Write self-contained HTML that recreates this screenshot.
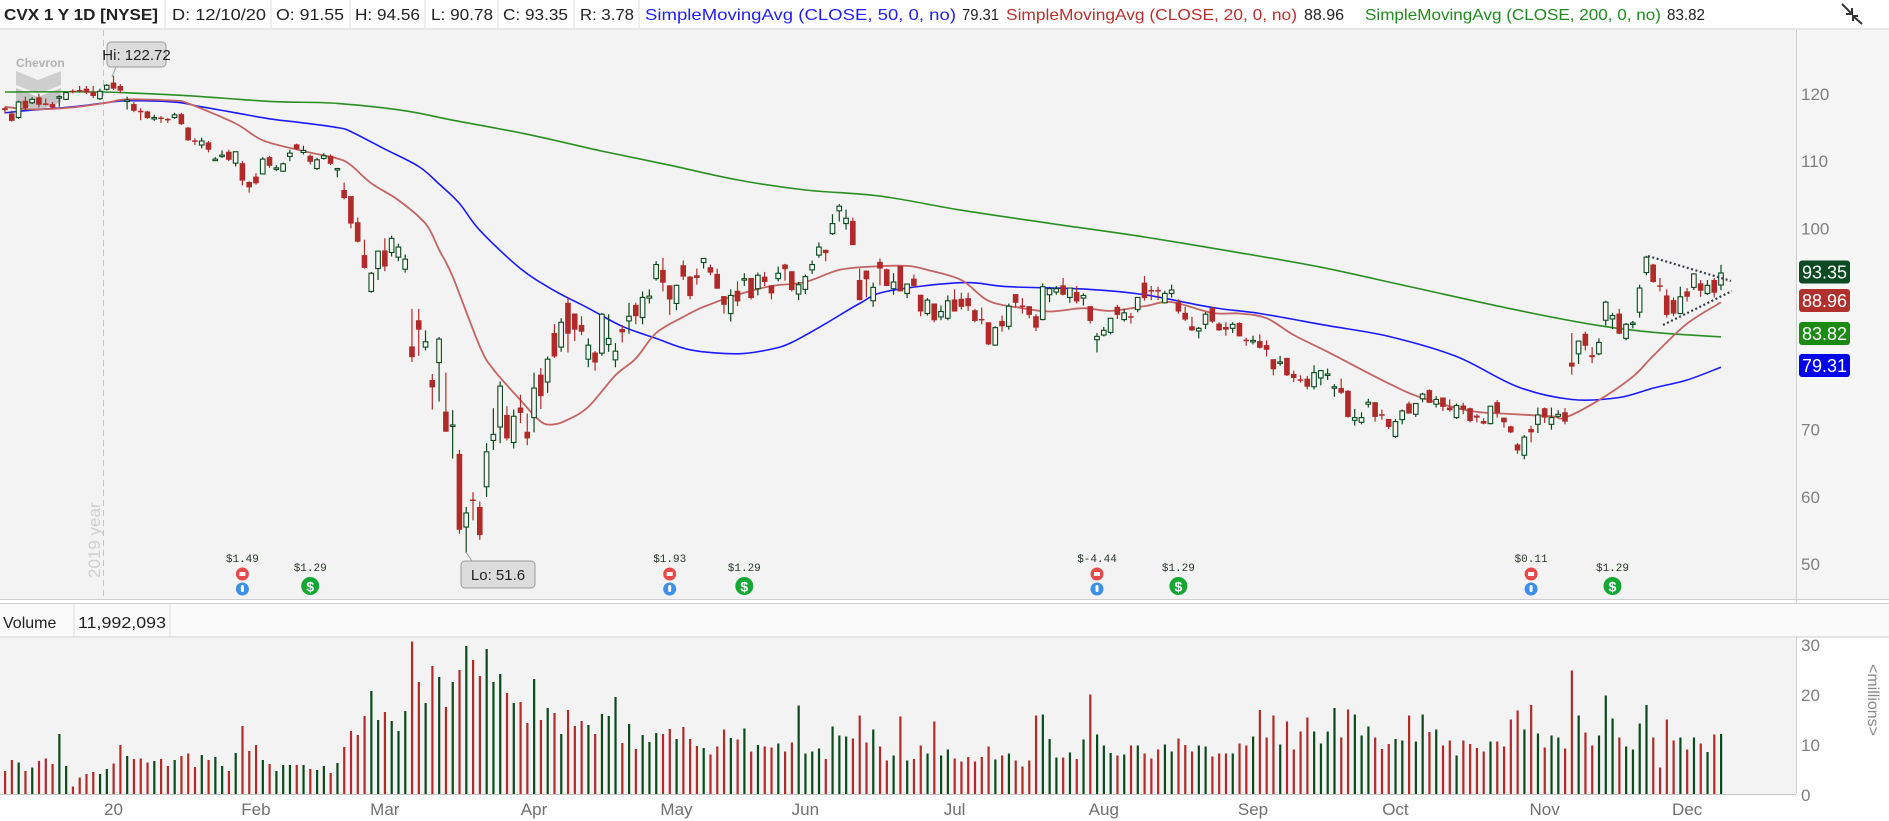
<!DOCTYPE html>
<html><head><meta charset="utf-8">
<style>
html,body{margin:0;padding:0;background:#fff;}
svg{display:block;font-family:"Liberation Sans",sans-serif;}
</style></head>
<body>
<svg id="chart" width="1889" height="821" viewBox="0 0 1889 821" xmlns="http://www.w3.org/2000/svg">
  <rect x="0" y="0" width="1889" height="821" fill="#ffffff"/>
  <g font-size="16" fill="#222">
    <text x="4" y="20" font-weight="bold" textLength="154" lengthAdjust="spacingAndGlyphs">CVX 1 Y 1D [NYSE]</text>
    <line x1="165" y1="0" x2="165" y2="28" stroke="#ddd"/>
    <text x="172" y="20" textLength="94" lengthAdjust="spacingAndGlyphs">D: 12/10/20</text>
    <line x1="271" y1="0" x2="271" y2="28" stroke="#ddd"/>
    <text x="276" y="20" textLength="68" lengthAdjust="spacingAndGlyphs">O: 91.55</text>
    <line x1="350" y1="0" x2="350" y2="28" stroke="#ddd"/>
    <text x="355" y="20" textLength="65" lengthAdjust="spacingAndGlyphs">H: 94.56</text>
    <line x1="425" y1="0" x2="425" y2="28" stroke="#ddd"/>
    <text x="431" y="20" textLength="62" lengthAdjust="spacingAndGlyphs">L: 90.78</text>
    <line x1="498" y1="0" x2="498" y2="28" stroke="#ddd"/>
    <text x="503" y="20" textLength="65" lengthAdjust="spacingAndGlyphs">C: 93.35</text>
    <line x1="574" y1="0" x2="574" y2="28" stroke="#ddd"/>
    <text x="580" y="20" textLength="54" lengthAdjust="spacingAndGlyphs">R: 3.78</text>
    <line x1="639" y1="0" x2="639" y2="28" stroke="#ddd"/>
    <text x="645" y="20" fill="#1f1fff" textLength="311" lengthAdjust="spacingAndGlyphs">SimpleMovingAvg (CLOSE, 50, 0, no)</text>
    <text x="962" y="20" textLength="37" lengthAdjust="spacingAndGlyphs">79.31</text>
    <text x="1006" y="20" fill="#b8302e" textLength="291" lengthAdjust="spacingAndGlyphs">SimpleMovingAvg (CLOSE, 20, 0, no)</text>
    <text x="1304" y="20" textLength="40" lengthAdjust="spacingAndGlyphs">88.96</text>
    <text x="1365" y="20" fill="#1f8a1f" textLength="296" lengthAdjust="spacingAndGlyphs">SimpleMovingAvg (CLOSE, 200, 0, no)</text>
    <text x="1667" y="20" textLength="38" lengthAdjust="spacingAndGlyphs">83.82</text>
    <g stroke="#333" stroke-width="2" fill="none">
      <path d="M1842 4 L1852 14 M1852 8 L1852 14 L1846 14"/>
      <path d="M1862 24 L1853 16 M1853 21 L1853 16 L1858 16"/>
    </g>
  </g>
  <line x1="0" y1="29" x2="1889" y2="29" stroke="#cfcfcf"/>
  <rect x="0" y="30" width="1796" height="569" fill="#f3f3f3"/>
  <rect x="1797" y="30" width="92" height="569" fill="#f6f6f6"/>
  <line x1="1796.5" y1="30" x2="1796.5" y2="794" stroke="#cfcfcf"/>
  <line x1="103.5" y1="30" x2="103.5" y2="599" stroke="#c4c4c4" stroke-dasharray="6,4"/>
  <text x="0" y="0" transform="translate(100,578) rotate(-90)" font-size="17" fill="#cfcfcf">2019 year</text>
  <g opacity="0.85">
    <text x="16" y="67" font-size="12" font-weight="bold" fill="#a8a8a8">Chevron</text>
    <path d="M16 71 L38 80 L61 71 L61 85 L38 94 L16 85 Z" fill="#c9c9c9"/>
    <path d="M16 88 L38 97 L61 88 L61 102 L38 111 L16 102 Z" fill="#bdbdbd"/>
  </g>
  <g id="priceAxis"></g>
  <g id="smaLines"></g>
  <g id="candles"></g>
  <g stroke="#3a3f4a" stroke-width="2.2" stroke-dasharray="2,2.5">
    <line x1="1648" y1="256" x2="1731" y2="281"/>
    <line x1="1663" y1="325" x2="1732" y2="291"/>
  </g>
  <g id="events"></g>
  <g>
    <path d="M112 77 L116 67" stroke="#999" fill="none"/>
    <rect x="107" y="42" width="59" height="25" rx="4" fill="#dcdcdc" stroke="#9a9a9a"/>
    <text x="136.5" y="60" font-size="15" text-anchor="middle" fill="#222">Hi: 122.72</text>
  </g>
  <g>
    <path d="M466 552 L472 561" stroke="#999" fill="none"/>
    <rect x="461" y="561" width="74" height="27" rx="4" fill="#dcdcdc" stroke="#9a9a9a"/>
    <text x="498" y="580" font-size="15" text-anchor="middle" fill="#222">Lo: 51.6</text>
  </g>
  <g id="lastLabels"></g>
  <line x1="0" y1="599.5" x2="1889" y2="599.5" stroke="#cfcfcf"/>
  <line x1="0" y1="603.5" x2="1889" y2="603.5" stroke="#cfcfcf"/>
  <rect x="0" y="604" width="1889" height="33" fill="#fafafa"/>
  <text x="3" y="628" font-size="16" fill="#222">Volume</text>
  <line x1="74" y1="604" x2="74" y2="637" stroke="#ddd"/>
  <text x="78" y="628" font-size="16" fill="#222" textLength="88" lengthAdjust="spacingAndGlyphs">11,992,093</text>
  <line x1="170" y1="604" x2="170" y2="637" stroke="#ddd"/>
  <line x1="0" y1="637" x2="1889" y2="637" stroke="#cfcfcf"/>
  <rect x="0" y="638" width="1796" height="156" fill="#f3f3f3"/>
  <g id="volAxis"></g>
  <g id="volBars"></g>
  <line x1="0" y1="794.5" x2="1796" y2="794.5" stroke="#c8c8c8"/>
  <text x="0" y="0" transform="translate(1868,700) rotate(90)" font-size="16" fill="#888" text-anchor="middle">&lt;millions&gt;</text>
  <g id="xAxis"></g>
</svg>
<script>
const opens=[117.9,117.1,116.5,119.0,118.7,119.5,118.6,118.5,119.4,119.2,120.5,120.6,120.8,120.3,119.3,120.7,121.7,121.2,119.0,118.5,117.5,117.4,116.4,116.5,116.3,116.5,117.0,115.0,113.1,112.4,112.8,110.2,110.9,111.4,109.7,109.7,106.9,107.7,108.1,110.6,109.0,108.5,110.7,112.5,111.3,110.8,108.9,110.4,110.8,108.9,105.7,104.8,100.9,96.0,90.6,94.0,96.7,96.4,95.7,93.9,82.4,86.3,82.3,77.4,80.0,72.7,70.7,66.4,55.5,59.6,58.5,61.5,68.4,70.4,72.2,68.1,73.3,69.7,71.8,78.2,77.1,84.4,82.3,88.9,87.3,85.6,80.5,81.5,81.4,82.7,80.4,85.0,86.2,88.6,86.7,89.6,92.5,93.8,91.5,88.8,94.5,92.8,93.0,94.9,94.2,93.2,89.9,87.3,90.7,92.4,92.6,91.0,92.8,91.5,92.5,94.6,93.6,90.2,90.9,93.8,96.0,96.8,99.2,102.6,100.7,101.1,92.3,93.7,89.2,95.0,93.9,91.0,94.4,90.3,92.5,90.1,87.3,88.8,86.8,86.6,89.4,89.5,89.6,87.8,86.5,86.0,82.6,86.2,85.4,90.2,88.5,88.4,86.9,86.4,90.1,90.5,91.5,89.7,90.5,89.6,88.4,83.4,84.1,84.5,88.3,86.4,86.9,87.9,91.9,90.8,90.8,88.9,90.3,89.0,87.4,85.4,84.7,85.7,88.1,85.8,85.3,85.1,85.9,83.4,83.2,83.2,82.6,80.5,80.0,80.7,78.3,77.5,77.6,76.4,77.7,78.1,76.3,76.2,75.8,71.4,71.1,73.8,74.1,72.3,71.6,69.0,71.5,73.9,72.3,74.6,75.9,73.8,74.8,73.3,71.8,73.6,73.2,72.1,71.3,70.9,74.1,71.8,70.5,67.8,66.2,70.1,70.8,73.2,70.8,72.0,72.6,80.0,81.3,84.3,81.1,81.3,86.3,86.5,87.3,83.6,85.8,87.5,93.4,94.6,91.5,90.0,89.3,87.3,90.6,91.2,91.8,90.3,92.3,91.55];
const highs=[118.1,117.5,119.0,119.6,119.5,120.0,119.3,118.8,119.8,120.3,120.7,121.2,121.2,121.2,120.8,121.5,122.72,121.5,119.6,118.8,117.9,117.5,116.9,116.7,116.4,117.2,117.2,115.1,113.4,113.5,113.0,110.6,111.6,111.7,111.4,110.0,107.0,108.2,110.6,110.8,109.4,109.8,111.7,112.6,112.3,111.0,110.5,111.2,111.0,109.0,106.8,104.8,101.6,98.3,93.5,96.6,98.5,98.9,97.7,96.1,88.0,88.0,84.8,78.3,83.8,78.5,72.9,67.0,58.5,60.7,59.3,68.0,73.2,77.2,73.5,73.0,75.2,72.4,78.5,79.2,80.9,85.7,86.6,89.6,87.3,86.9,83.6,81.7,87.4,87.2,82.9,85.6,88.9,88.9,90.6,90.9,95.1,95.6,91.5,91.6,95.2,92.9,94.0,95.5,94.6,94.0,89.9,90.9,92.1,93.3,92.6,93.4,93.5,91.5,94.3,94.7,93.6,92.0,93.1,95.2,97.9,96.8,102.1,103.6,102.8,101.6,94.0,93.7,91.9,95.5,94.0,93.3,94.4,91.7,93.1,90.1,89.6,88.8,88.5,90.0,90.9,90.4,90.4,88.0,88.2,86.0,85.4,87.0,88.8,90.2,89.6,88.4,87.2,91.8,91.3,91.4,92.6,91.1,91.4,90.3,88.4,84.4,85.3,86.6,88.6,88.0,87.4,89.7,92.9,91.4,91.3,90.7,91.6,89.4,88.3,86.8,85.3,87.5,88.3,86.0,86.0,86.0,86.0,83.7,84.0,84.2,83.3,80.5,81.0,80.7,78.8,78.1,78.0,79.6,78.8,79.1,76.8,77.6,75.9,73.1,72.6,74.6,74.1,73.0,71.6,71.6,73.0,74.2,73.9,75.5,76.0,75.0,74.8,74.5,73.9,74.0,73.3,72.3,71.7,73.5,74.4,71.8,70.6,68.0,69.2,70.6,73.3,73.3,73.3,72.9,73.2,84.4,83.2,84.6,82.3,83.6,89.2,87.4,88.0,85.9,86.2,91.6,95.9,94.7,92.6,90.9,89.7,91.3,91.1,93.3,92.3,92.3,92.6,94.56];
const lows=[117.1,115.9,116.3,117.6,118.5,118.0,118.3,117.8,118.1,119.1,120.1,120.2,120.0,119.4,119.1,120.5,120.6,120.1,117.7,117.3,116.1,116.3,116.0,115.7,115.7,116.3,115.4,113.0,112.4,111.9,111.3,110.1,110.5,110.0,109.2,106.4,105.3,106.5,108.0,109.0,108.5,108.4,110.0,111.7,111.0,109.5,108.7,110.2,109.4,107.6,104.3,100.0,97.9,94.0,90.4,92.3,93.6,95.8,95.1,93.4,80.1,81.0,81.8,73.0,74.2,69.7,65.7,54.5,51.6,56.5,53.6,60.0,67.0,68.0,68.4,67.2,71.0,67.7,69.6,73.1,75.5,80.7,81.6,81.5,83.2,84.1,79.3,78.8,81.0,81.6,79.3,83.0,84.3,85.7,85.7,88.8,92.2,90.6,87.1,87.8,92.3,89.4,91.6,94.0,93.0,91.0,87.3,86.1,88.4,91.4,89.4,90.0,91.4,89.4,92.1,92.2,90.6,89.3,90.2,93.2,95.6,95.1,99.0,101.0,99.8,97.5,89.3,89.7,88.3,91.5,91.4,90.1,90.6,89.6,91.2,86.9,87.0,86.0,86.3,86.3,87.6,87.9,87.7,86.0,85.7,82.6,82.5,84.6,84.9,88.2,87.3,86.6,84.7,86.3,89.0,90.1,90.0,88.9,88.8,88.5,85.8,81.5,83.9,84.2,86.5,86.1,85.8,87.5,89.2,89.3,89.3,88.8,89.7,87.3,86.2,84.7,83.6,85.0,85.9,84.7,84.0,84.4,83.9,82.5,82.7,82.1,80.9,78.1,79.5,78.0,77.1,77.0,76.0,76.0,76.6,77.4,74.9,75.3,71.8,70.6,70.8,73.3,71.2,71.5,70.1,68.8,70.8,72.4,71.9,74.1,74.0,73.3,72.8,72.7,71.6,72.3,71.1,71.1,70.8,70.8,71.8,70.3,69.5,66.4,65.6,68.1,69.5,71.0,70.0,71.8,70.8,78.2,79.8,81.8,79.9,81.1,85.5,85.0,84.2,83.3,85.1,86.7,93.0,91.9,90.6,86.7,86.9,87.2,89.1,90.8,89.8,90.1,89.7,90.78];
const closes=[117.6,116.0,118.8,117.9,119.2,118.4,118.5,118.0,119.6,120.2,120.4,120.4,120.2,119.7,120.4,121.3,120.8,120.5,119.1,117.5,117.4,116.4,116.5,116.4,116.2,116.9,115.5,113.1,113.0,113.0,111.7,110.3,110.9,110.2,111.4,107.1,106.1,106.7,110.3,109.3,109.0,109.6,111.2,111.8,111.6,109.9,110.2,110.8,109.6,108.9,104.5,100.7,98.0,94.1,93.3,96.6,94.3,98.5,97.2,95.4,80.8,84.9,83.1,76.3,83.5,69.7,70.7,55.1,57.6,59.4,54.3,66.7,69.3,76.5,68.7,72.0,72.5,68.7,76.2,75.0,80.5,80.9,86.0,84.3,84.9,84.6,82.6,80.0,87.2,83.6,81.7,84.5,86.9,86.9,89.7,89.9,94.6,91.9,89.4,91.5,92.8,89.9,92.6,95.5,93.4,91.0,88.6,90.0,89.1,92.5,89.6,93.0,92.0,90.3,93.3,93.9,90.8,91.6,92.8,94.6,97.2,96.3,100.7,103.3,101.5,97.5,89.3,92.4,91.2,94.0,91.4,92.0,90.6,91.7,91.4,87.6,89.3,86.3,87.6,89.2,87.6,88.3,88.4,86.2,86.4,82.7,85.2,85.4,88.4,88.9,88.4,87.1,85.2,91.3,91.0,91.0,90.1,91.1,89.1,90.0,86.2,83.9,84.8,86.6,87.1,87.4,86.8,89.7,89.6,90.7,90.7,90.3,90.8,87.6,86.4,84.8,85.1,87.2,86.1,84.8,84.9,85.7,83.9,83.3,83.3,82.2,81.9,79.0,80.1,78.1,77.7,77.4,76.4,78.5,78.8,78.3,76.4,75.5,71.9,71.8,71.8,74.1,71.9,72.1,70.4,71.2,72.8,72.4,73.9,75.3,74.0,74.5,73.4,72.9,73.6,73.0,71.3,71.8,70.9,73.5,72.5,71.1,69.6,66.9,68.9,69.6,72.2,71.8,71.8,72.3,71.2,79.4,83.2,82.5,80.8,83.0,89.0,87.0,84.3,85.7,85.9,91.1,95.7,92.0,91.4,87.1,87.3,89.8,89.8,93.2,90.7,91.5,90.4,93.35];
const volumes=[4.6,6.8,6.3,4.6,5.3,6.6,7.1,6.0,12.0,5.6,1.5,3.3,4.0,4.4,4.0,5.0,6.1,9.8,7.6,7.0,7.1,6.3,6.6,7.0,5.6,6.8,7.6,8.1,5.4,7.8,6.8,7.4,5.6,4.6,8.2,13.6,8.6,9.8,6.8,6.0,4.6,5.8,5.8,5.8,5.8,5.0,4.8,5.6,4.2,6.2,9.4,12.6,11.8,15.6,20.6,14.8,16.4,14.6,12.6,16.6,30.5,22.4,18.2,25.6,23.4,17.4,22.4,24.8,29.6,26.8,23.6,29.0,22.4,24.0,20.2,18.2,18.4,14.2,23.0,14.8,17.2,16.2,12.0,16.8,13.6,14.6,13.8,12.0,16.0,15.6,19.4,10.2,14.0,9.0,11.8,10.4,12.2,12.0,13.0,11.0,13.4,11.0,9.6,
9.2,7.9,9.5,12.9,11.2,10.9,13.1,8.5,9.8,9.5,9.3,10.1,8.5,10.3,17.7,8.1,8.5,9.1,7.0,13.5,11.7,11.5,11.1,15.7,10.3,12.9,9.5,6.7,7.7,15.5,6.7,7.0,9.7,8.1,14.5,7.7,8.9,7.1,6.5,7.4,6.5,7.4,9.5,6.9,7.7,8.1,6.7,5.5,6.7,15.7,15.9,11.0,7.3,7.3,8.3,7.0,10.9,19.9,11.9,9.7,8.2,7.7,7.9,9.7,9.7,8.1,7.1,8.9,9.9,8.5,11.1,9.8,8.5,9.7,9.5,7.5,8.1,8.1,8.1,10.1,9.7,11.5,16.8,11.3,15.7,9.9,14.5,8.9,12.5,15.3,12.5,10.1,12.5,17.2,11.3,16.9,15.9,11.7,13.5,11.3,9.0,10.0,11.0,10.7,15.7,10.5,15.9,12.4,12.9,9.7,10.7,7.7,10.7,10.0,9.2,8.5,10.5,10.5,9.5,14.9,16.7,12.9,17.8,12.1,9.3,11.7,11.3,9.1,24.7,15.7,12.3,9.7,11.7,19.7,15.1,11.3,9.5,8.9,14.1,17.8,11.3,5.3,14.9,10.7,11.3,8.9,11.3,10.1,8.4,11.9,12.0];

const sma200Idx=[0,14,26,39,49,59,66,77,88,98,108,118,129,141,155,168,180,194,208,223,235,243,253];
const sma200Val=[120.3,120.3,119.8,118.9,118.6,117.5,116.1,114.0,111.5,109.4,107.2,105.7,104.8,102.7,100.6,98.7,96.7,94.2,91.1,87.8,85.5,84.5,83.82];
const sma50Idx=[0,4,10,15,18,25,29,34,39,44,49,51,56,61,64,67,70,76,81,86,91,96,101,108,113,116,121,126,130,141,148,160,168,178,185,195,204,214,223,231,238,243,248,253];
const sma50Val=[117.2,117.6,118.1,118.7,119.0,118.8,118.1,117.2,116.3,115.7,115.0,114.4,111.8,109.2,106.6,103.7,99.7,94.0,90.7,88.1,85.4,83.6,81.9,81.3,82.0,83.0,85.8,88.8,90.6,91.9,91.3,90.9,90.1,88.2,87.3,85.5,83.9,80.9,76.4,74.5,74.8,76.2,77.4,79.31];
const sma20Idx=[0,4,10,15,18,25,27,34,38,44,49,51,54,58,62,64,66,70,72,76,79,81,83,86,90,93,96,100,103,108,113,118,123,128,133,136,141,145,150,154,159,163,168,172,178,182,186,190,195,204,209,216,221,228,230,235,240,243,248,253];
const sma20Val=[118.1,117.7,118.0,118.7,119.2,119.0,118.6,115.6,113.1,111.5,110.4,109.4,106.7,104.2,100.7,96.8,92.8,82.4,79.0,74.4,71.2,70.8,71.5,73.4,78.1,80.6,84.4,86.8,88.3,90.1,91.4,92.0,93.8,94.3,94.4,93.8,92.3,89.2,88.1,87.6,88.1,87.7,88.4,89.0,87.4,87.3,86.6,84.1,81.6,76.9,74.7,72.8,72.4,72.0,71.8,74.4,77.9,81.0,85.8,88.96];

const priceTicks=[120,110,100,70,60,50];
const volTicks=[30,20,10,0];
const monthLabels=["20","Feb","Mar","Apr","May","Jun","Jul","Aug","Sep","Oct","Nov","Dec"];
const monthIdx=[16,37,56,78,99,118,140,162,184,205,227,248];
const earnIdx=[35,98,161,225];
const earnText=["$1.49","$1.93","$-4.44","$0.11"];
const divIdx=[45,109,173,237];
const divText=["$1.29","$1.29","$1.29","$1.29"];
const lastVals=[93.35,88.96,83.82,79.31];
const lastColors=["#0b4a22","#b0302e","#1a8a12","#0000ee"];
const lastNames=["last-close-label","sma20-last-label","sma200-last-label","sma50-last-label"];

const NS="http://www.w3.org/2000/svg";
const X0=5, DX=(1721-5)/(closes.length-1);
function xAt(i){return X0+i*DX;}
function yP(p){return 94+(120-p)*6.714;}
function yV(v){return 794-v*5;}
function mk(tag,attrs,parent){const e=document.createElementNS(NS,tag);for(const k in attrs)e.setAttribute(k,attrs[k]);parent.appendChild(e);return e;}

const GREEN="#0a4a1c", RED="#b02a2a";
const pa=document.getElementById('priceAxis');
priceTicks.forEach(t=>{
  const tx=mk('text',{x:1801,y:yP(t)+6,'font-size':17,fill:'#808080'},pa);
  tx.textContent=t;
  
  
});
const sg=document.getElementById('smaLines');
function drawLine(idx,val,color,w,name){
  const pts=idx.map((ix,k)=>[xAt(ix),yP(val[k])]);
  let d='M'+pts[0][0].toFixed(1)+' '+pts[0][1].toFixed(1);
  for(let k=0;k<pts.length-1;k++){
    const p0=pts[Math.max(k-1,0)],p1=pts[k],p2=pts[k+1],p3=pts[Math.min(k+2,pts.length-1)];
    const c1x=p1[0]+(p2[0]-p0[0])/6,c1y=p1[1]+(p2[1]-p0[1])/6;
    const c2x=p2[0]-(p3[0]-p1[0])/6,c2y=p2[1]-(p3[1]-p1[1])/6;
    d+=' C'+c1x.toFixed(1)+' '+c1y.toFixed(1)+' '+c2x.toFixed(1)+' '+c2y.toFixed(1)+' '+p2[0].toFixed(1)+' '+p2[1].toFixed(1);
  }
  const p=mk('path',{d:d,fill:'none',stroke:color,'stroke-width':w,'stroke-linejoin':'round'},sg);
  
  
}
drawLine(sma200Idx,sma200Val,'#2a8f22',1.6,'sma200-line');
drawLine(sma50Idx,sma50Val,'#1a1aff',1.6,'sma50-line');
drawLine(sma20Idx,sma20Val,'#c46464',1.8,'sma20-line');
const cg=document.getElementById('candles');
closes.forEach((c,i)=>{
  const o=opens[i], up=c>=o, x=xAt(i), col=up?GREEN:RED;
  const g=mk('g',{},cg);
  
  
  mk('line',{x1:x,x2:x,y1:yP(highs[i]),y2:yP(lows[i]),stroke:col,'stroke-width':1.2},g);
  const top=yP(Math.max(o,c)), bot=yP(Math.min(o,c));
  const h=Math.max(bot-top,1.5);
  if(up) mk('rect',{x:x-2.3,y:top,width:4.6,height:h,fill:'#f6f6f6',stroke:col,'stroke-width':1.1},g);
  else mk('rect',{x:x-2.8,y:top,width:5.6,height:h,fill:col},g);
});
const eg=document.getElementById('events');
earnIdx.forEach((ix,k)=>{
  const x=xAt(ix);
  const t=mk('text',{x:x,y:562,'font-size':11,'font-family':'Liberation Mono, monospace','text-anchor':'middle',fill:'#2a3a2a'},eg);
  t.textContent=earnText[k];
  
  
  const c1=mk('circle',{cx:x,cy:574,r:6.5,fill:'#e84a4a'},eg);
  
  
  mk('rect',{x:x-3,y:572,width:6,height:4,fill:'#fff'},eg);
  const c2=mk('circle',{cx:x,cy:589,r:6.5,fill:'#3d8fe8'},eg);
  
  
  mk('rect',{x:x-1.5,y:585,width:3,height:7,rx:1.5,fill:'#fff'},eg);
});
divIdx.forEach((ix,k)=>{
  const x=xAt(ix);
  const t=mk('text',{x:x,y:571,'font-size':11,'font-family':'Liberation Mono, monospace','text-anchor':'middle',fill:'#2a3a2a'},eg);
  t.textContent=divText[k];
  
  
  const c=mk('circle',{cx:x,cy:586,r:9,fill:'#14a833'},eg);
  
  
  const s=mk('text',{x:x,y:591.5,'font-size':14,'font-weight':'bold','text-anchor':'middle',fill:'#fff'},eg);
  s.textContent='$';
});
const lg=document.getElementById('lastLabels');
const lastY=[272,300.5,333.5,365.5];
lastVals.forEach((v,k)=>{
  const g=mk('g',{},lg);
  
  
  mk('rect',{x:1799,y:lastY[k]-11.5,width:51,height:23,rx:3,fill:lastColors[k]},g);
  const t=mk('text',{x:1824.5,y:lastY[k]+6.5,'font-size':18,'text-anchor':'middle',fill:'#fff'},g);
  t.textContent=v.toFixed(2);
});
const va=document.getElementById('volAxis');
volTicks.forEach(t=>{
  const tx=mk('text',{x:1801,y:yV(t)+7,'font-size':17,fill:'#808080'},va);
  tx.textContent=t;
  
  
});
const vb=document.getElementById('volBars');
volumes.forEach((v,i)=>{
  const up=closes[i]>=opens[i];
  const r=mk('rect',{x:xAt(i)-1,y:yV(v),width:2.2,height:v*5,fill:up?GREEN:'#b22a2a'},vb);
  
  
});
const xa=document.getElementById('xAxis');
monthLabels.forEach((m,k)=>{
  const t=mk('text',{x:xAt(monthIdx[k]),y:815,'font-size':17,fill:'#707070','text-anchor':'middle'},xa);
  t.textContent=m;
  
  
});
</script>
</body></html>
